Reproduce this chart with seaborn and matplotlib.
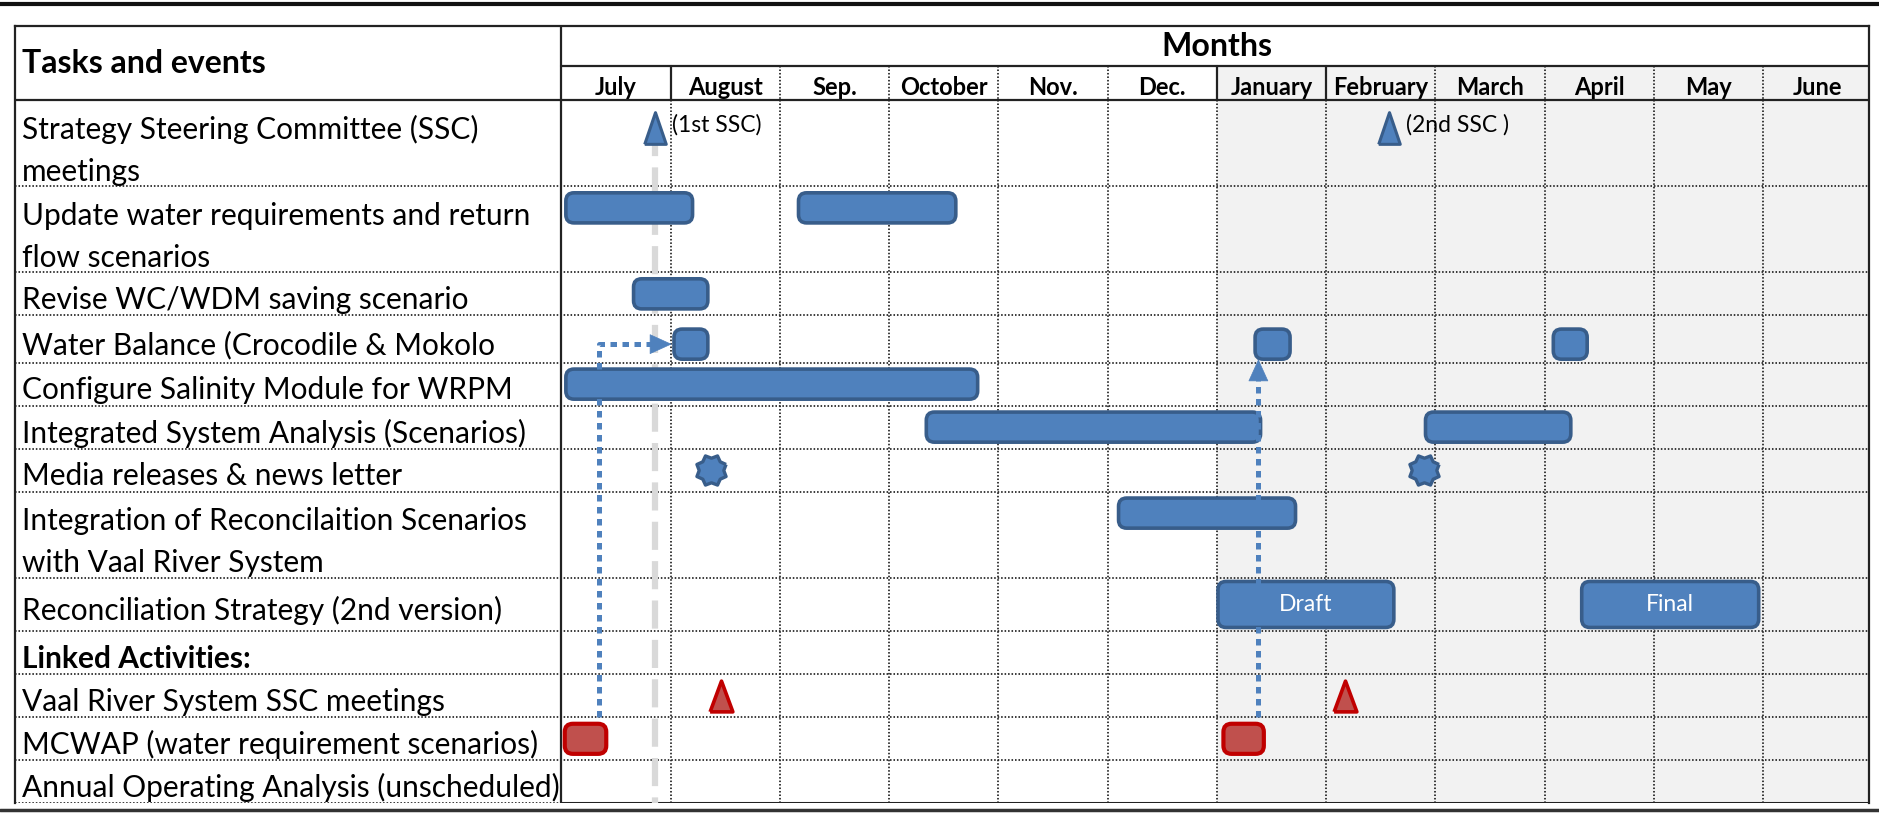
import numpy as np
import pandas as pd
import matplotlib.pyplot as plt
import seaborn as sns
from matplotlib.patches import FancyBboxPatch
from matplotlib.path import Path
from matplotlib.lines import Line2D

months = ["July", "August", "Sep.", "October", "Nov.", "Dec.",
          "January", "February", "March", "April", "May", "June"]

tasks = [
    "Strategy Steering Committee (SSC)\nmeetings",
    "Update water requirements and return\nflow scenarios",
    "Revise WC/WDM saving scenario",
    "Water Balance (Crocodile & Mokolo",
    "Configure Salinity Module for WRPM",
    "Integrated System Analysis (Scenarios)",
    "Media releases & news letter",
    "Integration of Reconcilaition Scenarios\nwith Vaal River System",
    "Reconciliation Strategy (2nd version)",
    "Linked Activities:",
    "Vaal River System SSC meetings",
    "MCWAP (water requirement scenarios)",
    "Annual Operating Analysis (unscheduled)",
]

# bars: task row, start / end in months counted from 1 July
bar_row = [1, 1, 2, 3, 3, 3, 4, 5, 5, 7, 8, 8, 11, 11]
bar_start = [0.04, 2.17, 0.66, 1.03, 6.35, 9.08, 0.04, 3.34, 7.91, 5.10, 6.01, 9.34, 0.03, 6.06]
bar_end = [1.20, 3.61, 1.34, 1.34, 6.67, 9.39, 3.81, 6.40, 9.24, 6.72, 7.62, 10.96, 0.41, 6.43]
bar_group = ["study"] * 12 + ["linked"] * 2
bar_text = [""] * 10 + ["Draft", "Final"] + [""] * 2

# milestones
ms_row = [0, 0, 6, 6, 10, 10]
ms_month = [0.86, 7.58, 1.37, 7.90, 1.46, 7.17]
ms_kind = ["ssc", "ssc", "media", "media", "vaal", "vaal"]
ms_note = ["(1st SSC)", "(2nd SSC )", "", "", "", ""]

# MCWAP results feed the water balance
link_month = [0.344, 6.38]
link_from_row = [11, 11]
link_to_bar = [3, 4]
link_side = ["left", "bottom"]

# layout (row heights in "text line" units)
head_h = [0.94, 0.79]
row_h = [2, 2, 1, 1.1, 1, 1, 1, 2, 1.25, 1, 1, 1, 1]
item_dy = [0.14, 0, 0, 0.12, 0, 0, 0, 0, 0, 0, 0, 0, 0]

BLUE, BLUE_EDGE = "#4F81BD", "#385D8A"
RED, RED_EDGE = "#C0504D", "#C00000"
SHADE = "#F2F2F2"
LINE = "#222222"

sns.set_theme(style="white")
plt.rcParams["font.family"] = ["Lato", "DejaVu Sans"]

W, H = 1879, 814
fig = plt.figure(figsize=(W / 100, H / 100), dpi=100)
left_px, right_px, top_px, bot_px = 15.3, 1869, 26, 803.3
ax = fig.add_axes([left_px / W, 1 - bot_px / H, (right_px - left_px) / W, (bot_px - top_px) / H])

xmin, xmax = -5.0, 11.97
head_tot = sum(head_h)
tops = head_tot + np.concatenate([[0], np.cumsum(row_h)[:-1]])
ytot = head_tot + sum(row_h)
ax.set_xlim(xmin, xmax)
ax.set_ylim(ytot, 0)
ax.set_xticks([])
ax.set_yticks([])
for s in ["top", "left", "right"]:
    ax.spines[s].set_color(LINE)
    ax.spines[s].set_linewidth(1.6)
ax.spines["bottom"].set_visible(False)

px_x = (right_px - left_px) / (xmax - xmin)
px_y = (bot_px - top_px) / ytot
asp = px_x / px_y


def row_center(i):
    if row_h[i] >= 2:
        return tops[i] + 0.5 + item_dy[i]
    return tops[i] + row_h[i] / 2 + item_dy[i]


# shading from January on
ax.fill_between([6, xmax], head_h[0], ytot, color=SHADE, zorder=0, lw=0)

# grid
dot = dict(color=LINE, lw=1.25, ls=(0, (0.9, 1.1)), zorder=1)
for t in tops[1:]:
    ax.plot([xmin, xmax], [t, t], **dot)
ax.plot([xmin, 0], [ytot, ytot], **dot)
ax.plot([0, xmax], [ytot, ytot], color=LINE, lw=2.2, zorder=1, solid_capstyle="butt")
ax.plot([0, xmax], [head_h[0], head_h[0]], color=LINE, lw=1.6, zorder=1)
ax.plot([xmin, xmax], [head_tot, head_tot], color=LINE, lw=1.6, zorder=1)
ax.plot([0, 0], [0, ytot], color=LINE, lw=1.6, zorder=1)
for k in range(1, 12):
    ax.plot([k, k], [head_tot, ytot], **dot)
    if k in (1, 6, 7):
        ax.plot([k, k], [head_h[0], head_tot], color=LINE, lw=1.6, zorder=1)
    else:
        ax.plot([k, k], [head_h[0], head_tot], **dot)

# header text
ax.text(xmin + 0.06, head_tot / 2, "Tasks and events", ha="left", va="center",
        fontsize=23, fontweight="bold", color="black")
ax.text(6, head_h[0] / 2, "Months", ha="center", va="center",
        fontsize=23, fontweight="bold", color="black")
for k, m in enumerate(months):
    ax.text(k + 0.5, head_h[0] + head_h[1] / 2 + 0.1, m, ha="center", va="center",
            fontsize=17, fontweight="bold", color="black")

# task labels
for i, task in enumerate(tasks):
    lines = task.split("\n")
    weight = "bold" if task.endswith(":") else "normal"
    for j, line in enumerate(lines):
        y = tops[i] + 0.68 + j * 0.98 if len(lines) > 1 else tops[i] + row_h[i] / 2 + 0.14
        ax.text(xmin + 0.06, y, line, ha="left", va="center", fontsize=21.5,
                fontweight=weight, color="black", zorder=6)

# first SSC meeting marker line
ssc_first = ms_month[0]
ax.plot([ssc_first, ssc_first], [row_center(0), ytot], color="#D9D9D9", lw=4.5,
        ls=(0, (4.5, 1.8)), zorder=2, solid_capstyle="butt")

# bars
for r, s, e, g, txt in zip(bar_row, bar_start, bar_end, bar_group, bar_text):
    h = 1.07 if txt else 0.70
    yc = row_center(r)
    fc, ec, lw = (BLUE, BLUE_EDGE, 2.6) if g == "study" else (RED, RED_EDGE, 3.0)
    patch = FancyBboxPatch((s, yc - h / 2), e - s, h,
                           boxstyle="round,pad=0,rounding_size=0.075",
                           mutation_aspect=asp, fc=fc, ec=ec, lw=lw, zorder=3)
    ax.add_patch(patch)
    if txt:
        ax.text((s + e) / 2, yc, txt, ha="center", va="center", color="white",
                fontsize=16.5, zorder=6)

# milestone markers
tri_blue = Path([(-0.34, -0.5), (0.34, -0.5), (0, 0.5), (-0.34, -0.5)])
tri_red = Path([(-0.37, -0.5), (0.37, -0.5), (0, 0.5), (-0.37, -0.5)])
ang = np.linspace(0, 2 * np.pi, 17)[:-1] + np.pi / 8
rad = np.where(np.arange(16) % 2 == 0, 1.0, 0.78)
star = Path(np.c_[rad * np.cos(ang), rad * np.sin(ang)].tolist() + [[rad[0] * np.cos(ang[0]), rad[0] * np.sin(ang[0])]])

ms = pd.DataFrame({"month": ms_month, "y": [row_center(r) for r in ms_row], "kind": ms_kind})
styles = {
    "ssc": dict(marker=tri_blue, s=520, color=BLUE, edgecolor=BLUE_EDGE, linewidth=2.2),
    "media": dict(marker=star, s=440, color=BLUE, edgecolor=BLUE_EDGE, linewidth=2.4),
    "vaal": dict(marker=tri_red, s=490, color=RED, edgecolor=RED_EDGE, linewidth=2.6),
}
for kind, kw in styles.items():
    sns.scatterplot(data=ms[ms["kind"] == kind], x="month", y="y", ax=ax,
                    zorder=4, legend=False, **kw)
ax.set_xlabel("")
ax.set_ylabel("")

for m, r, note in zip(ms_month, ms_row, ms_note):
    if note:
        ax.annotate(note, (m, row_center(r)), xytext=(12, 2), textcoords="offset points",
                    ha="left", va="center", fontsize=16.5, color="black", zorder=6)

# dependency arrows (dotted)
head_len_px = 20
for lx, fr, tb, side in zip(link_month, link_from_row, link_to_bar, link_side):
    y0 = tops[fr]
    tc = row_center(bar_row[tb])
    if side == "left":
        tip = (bar_start[tb] - 0.02, tc)
        xs, ys = [lx, lx, tip[0] - head_len_px / px_x], [y0, tc, tc]
        tail = (tip[0] - head_len_px / px_x, tc)
    else:
        tip = (lx, tc + 0.35)
        tail = (lx, tip[1] + head_len_px / px_y)
        xs, ys = [lx, lx], [y0, tail[1]]
    ax.plot(xs, ys, color=BLUE, lw=3.6, ls=(0, (1.3, 1.1)), zorder=5,
            solid_capstyle="butt", dash_capstyle="butt")
    ax.annotate("", xy=tip, xytext=tail,
                arrowprops=dict(arrowstyle="-|>,head_length=0.75,head_width=0.34",
                                mutation_scale=20, color=BLUE, lw=0.5,
                                shrinkA=0, shrinkB=0), zorder=5)

# page rules above and below
fig.add_artist(Line2D([0, 1], [1 - 3.5 / H, 1 - 3.5 / H], color="#111111", lw=3,
                      transform=fig.transFigure))
fig.add_artist(Line2D([0, 1], [1 - 810 / H, 1 - 810 / H], color="#333333", lw=2.5,
                      transform=fig.transFigure))

fig.savefig("out.png", dpi=100, facecolor="white")
